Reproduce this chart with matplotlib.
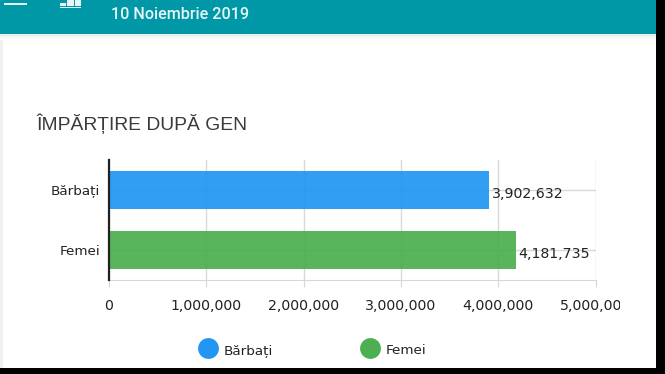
import matplotlib
matplotlib.use("Agg")
import matplotlib.pyplot as plt
from matplotlib.lines import Line2D
from matplotlib.patches import Rectangle
from matplotlib.ticker import FuncFormatter
from matplotlib.transforms import Bbox

W, H = 665, 374

categories = ["Bărbați", "Femei"]
values = [3902632, 4181735]
bar_colors = ["#2196F3", "#4CAF50"]
x_ticks = [0, 1000000, 2000000, 3000000, 4000000, 5000000]

fig = plt.figure(figsize=(W / 100, H / 100), dpi=100, facecolor="white")

# page around the chart, in pixel coordinates
page = fig.add_axes([0, 0, 1, 1], zorder=0)
page.set_xlim(0, W)
page.set_ylim(H, 0)
page.axis("off")
page.add_patch(Rectangle((0, 34), 3, H, color="#F0F0F0", lw=0))
for i, c in enumerate(["#EDEDED", "#F3F3F3", "#F8F8F8", "#FCFCFC"]):
    page.add_patch(Rectangle((0, 34 + i * 1.5), W, 1.5, color=c, lw=0))
page.add_patch(Rectangle((0, 0), W, 34, color="#0097A7", lw=0))
page.add_patch(Rectangle((4, 2.5), 23, 2, color="#E8F6F8", lw=0))
for x0, y0, w in [(60, 2.5, 6), (67, 0, 7), (75, 0, 6)]:
    page.add_patch(Rectangle((x0, y0), w, 6 - y0, color="#E8F6F8", lw=0))
page.add_patch(Rectangle((60, 6.8), 21, 1.4, color="#E8F6F8", lw=0))
page.text(111, 14, "10 Noiembrie 2019", color="#E6F5F7", fontsize=11.6,
          family="Roboto", weight="medium", va="center", ha="left")
page.text(36, 124, "ÎMPĂRȚIRE DUPĂ GEN", color="#3A3A3A", fontsize=13.9,
          family="Liberation Sans", va="center", ha="left")

# plot area 109..595 x 160..280 px
ax = fig.add_axes([109 / W, 1 - 280 / H, 486.5 / W, 120 / H], zorder=1)
ax.patch.set_alpha(0)
y = list(range(len(categories)))
ax.barh(y, values, height=0.62, color=bar_colors, alpha=0.93, zorder=2)
ax.set_yticks(y, categories)
ax.set_ylim(1.5, -0.5)
ax.set_xlim(0, 5000000)
ax.set_xticks(x_ticks)
ax.xaxis.set_major_formatter(FuncFormatter(lambda v, p: f"{int(v):,}"))
ax.grid(True, color="#D8D8D8", lw=1, zorder=1)
ax.set_axisbelow(True)
for s in ["top", "right"]:
    ax.spines[s].set_visible(False)
ax.spines["bottom"].set_color("#D8D8D8")
ax.spines["left"].set_color("#222222")
ax.spines["left"].set_linewidth(1.6)
ax.spines["left"].set_zorder(4)
ax.tick_params(axis="y", length=0, pad=6.5, labelsize=9.7, labelcolor="#222222")
ax.tick_params(axis="x", length=5, color="#D8D8D8", pad=9, labelsize=10.2, labelcolor="#222222")

# last tick label is cut off by the chart's box
clip = Bbox([[0, 0], [620, H]])
for lab in ax.get_xticklabels():
    lab.set_clip_box(clip)
    lab.set_clip_on(True)

for i, v in enumerate(values):
    ax.annotate(f"{v:,}", (v, i), xytext=(2, -2.6), textcoords="offset points",
                va="center", ha="left", fontsize=10.2, color="#222222", zorder=5)

handles = [Line2D([], [], ls="", marker="o", ms=15, color=c, label=n, mew=0)
           for n, c in zip(categories, bar_colors)]
leg = fig.legend(handles=handles, loc="center", bbox_to_anchor=(311.5 / W, 1 - 349 / H), ncols=2,
                 frameon=False, fontsize=9.7, labelcolor="#222222", handletextpad=0.35,
                 columnspacing=6.4, borderpad=0, handlelength=1.6)
for t in leg.get_texts():
    t.set_y(-2)

# black edges of the screenshot
top = fig.add_axes([0, 0, 1, 1], zorder=5)
top.set_xlim(0, W)
top.set_ylim(H, 0)
top.axis("off")
top.add_patch(Rectangle((656, 0), W - 656, H, color="black", lw=0))
top.add_patch(Rectangle((0, 368), W, H - 368, color="black", lw=0))

fig.savefig("out.png", dpi=100)
